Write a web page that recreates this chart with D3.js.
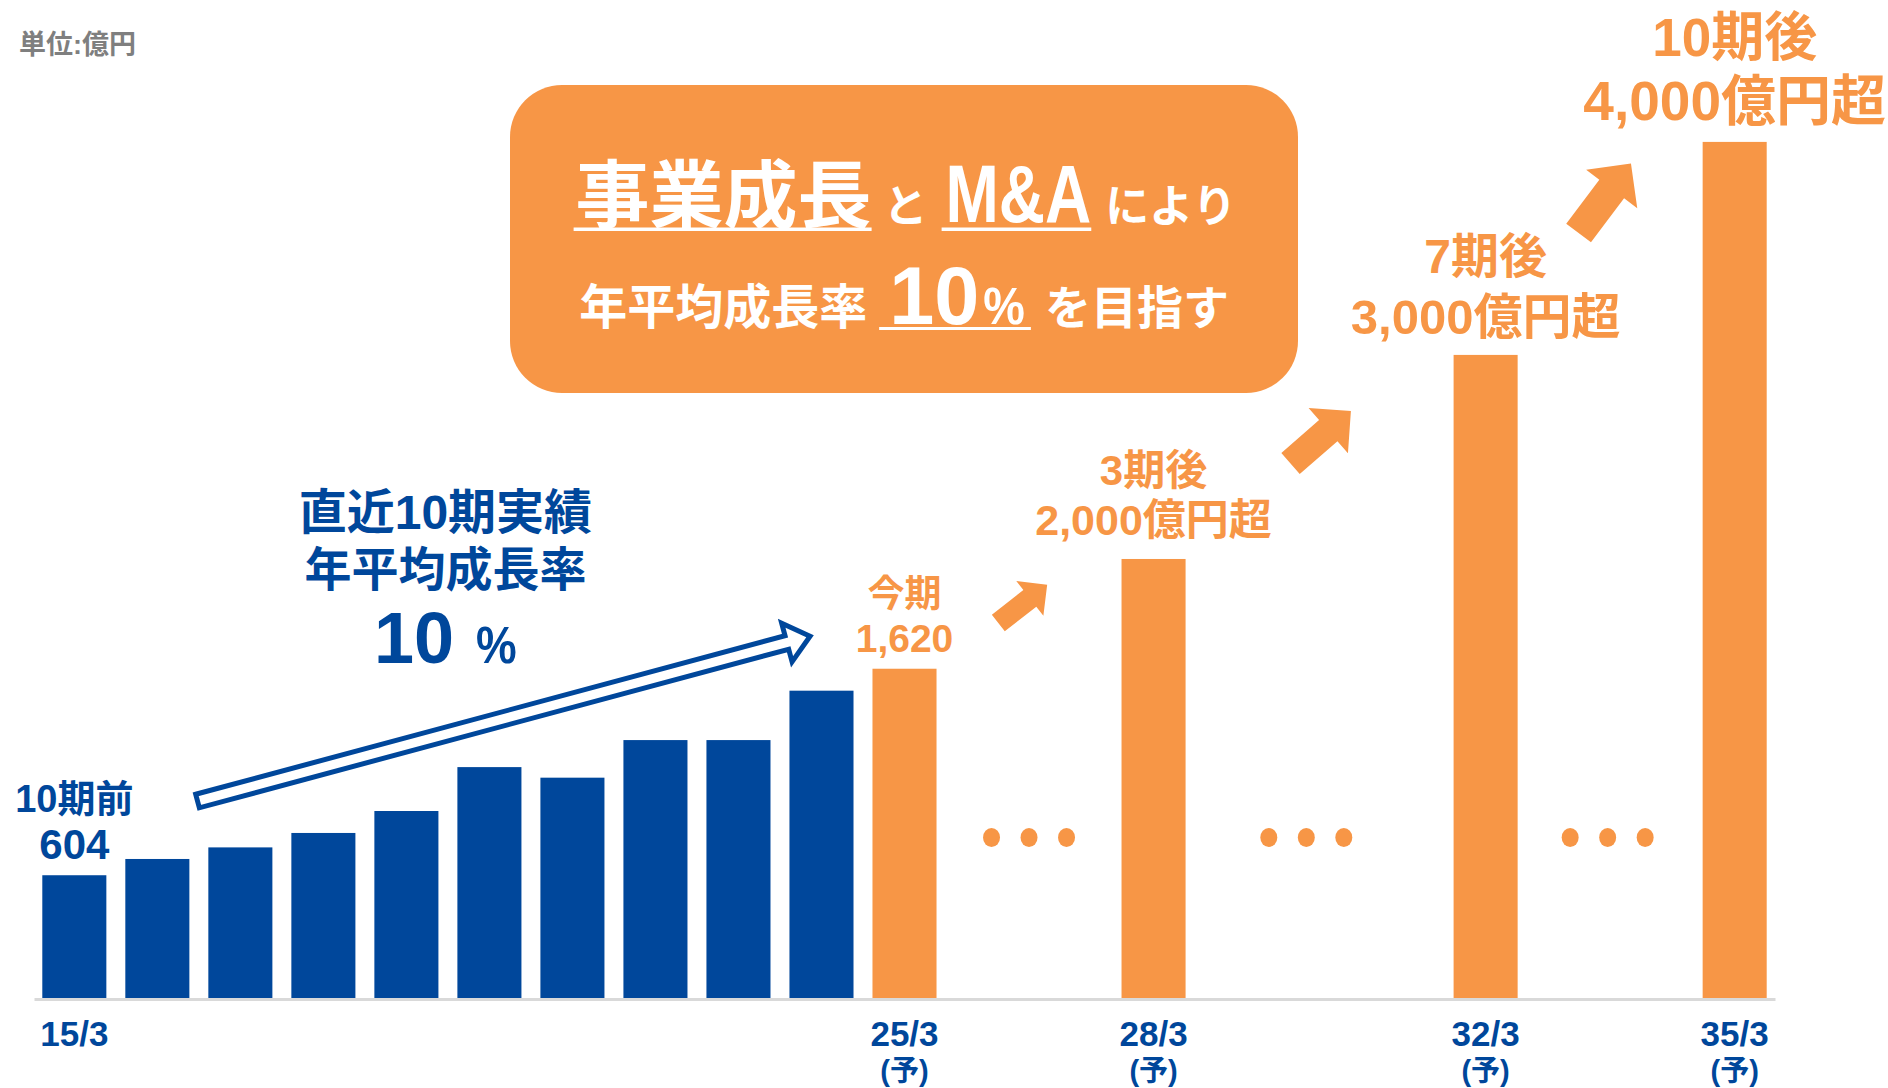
<!DOCTYPE html>
<html><head><meta charset="utf-8">
<script src="https://cdn.jsdelivr.net/npm/d3@7"></script>
<style>
html,body{margin:0;padding:0;background:#fff;}
svg{display:block;}
svg text{font-family:"Liberation Sans","Noto Sans CJK JP",sans-serif;font-weight:700;}
</style></head><body>
<svg id="chart" width="1888" height="1088"></svg>
<script>
// ---------- data ----------
const periods = ["15/3","16/3","17/3","18/3","19/3","20/3","21/3","22/3","23/3","24/3","25/3",
                 "26/3","27/3","28/3","29/3","30/3","31/3","32/3","33/3","34/3","35/3"];
const actualPeriods = ["15/3","16/3","17/3","18/3","19/3","20/3","21/3","22/3","23/3","24/3"];
const actualValues  = [604, 684, 741, 812, 920, 1136, 1084, 1269, 1269, 1512];
const planPeriods   = ["25/3","28/3","32/3","35/3"];
const planValues    = [1620, 2160, 3164, 4212];
const tickLabels    = ["15/3","25/3","28/3","32/3","35/3"];
const forecastTicks = ["25/3","28/3","32/3","35/3"];
const forecastMark  = "(予)";
const calloutPeriods = ["15/3","25/3","28/3","32/3","35/3"];
const calloutTitles  = ["10期前","今期","3期後","7期後","10期後"];
const calloutValues  = ["604","1,620","2,000億円超","3,000億円超","4,000億円超"];
const unitLabel = "単位:億円";

// ---------- styles / layout ----------
const BLUE = "#00479B", ORANGE = "#F79646", GREY = "#7F7F7F", AXIS = "#D9D9D9";
const calloutStyle = {
  size1: [38, 37, 42, 48, 53], size2: [42, 39, 43, 49, 55],
  gap: [16, 17, 24, 21, 22], lead: [47, 45, 50, 61, 64],
  color: [BLUE, ORANGE, ORANGE, ORANGE, ORANGE]
};

const svg = d3.select("#chart");
const x = d3.scaleBand().domain(periods).range([34, 1775]).paddingInner(0.2285).paddingOuter(0.1);
const y = d3.scaleLinear().domain([0, 4500]).range([998, 998 - 4500 / 4.92]);
const xc = p => x(p) + x.bandwidth() / 2;
const xi = i => xc(periods[0]) + i * x.step();   // fractional period index -> px

// ---------- unit label ----------
svg.append("text").attr("x", 19).attr("y", 54).attr("font-size", 27).attr("fill", GREY).text(unitLabel);

// ---------- bars ----------
svg.append("g").selectAll("rect")
  .data(actualPeriods.map((p, i) => ({p, v: actualValues[i]})))
  .join("rect")
  .attr("x", d => x(d.p)).attr("width", x.bandwidth())
  .attr("y", d => y(d.v)).attr("height", d => y(0) - y(d.v))
  .attr("fill", BLUE);
svg.append("g").selectAll("rect")
  .data(planPeriods.map((p, i) => ({p, v: planValues[i]})))
  .join("rect")
  .attr("x", d => x(d.p)).attr("width", x.bandwidth())
  .attr("y", d => y(d.v)).attr("height", d => y(0) - y(d.v))
  .attr("fill", ORANGE);

// ---------- axis ----------
const ax = svg.append("g").attr("transform", `translate(0,${y(0) + 1})`)
  .call(d3.axisBottom(x).tickValues(tickLabels).tickSize(0).tickSizeOuter(0));
ax.attr("font-family", null).attr("font-size", null);
ax.select(".domain").attr("stroke", AXIS).attr("stroke-width", 3);
ax.selectAll(".tick text").each(function(d) {
  const t = d3.select(this).text(null).attr("y", null).attr("dy", null)
    .attr("fill", BLUE).attr("font-size", 35);
  t.append("tspan").attr("x", 0).attr("y", 47).text(d);
  if (forecastTicks.includes(d))
    t.append("tspan").attr("x", 0).attr("y", 82).attr("font-size", 29).text(forecastMark);
});

// ---------- ellipsis dots between forecast bars ----------
const gapDots = [["25/3","28/3",0.5],["28/3","32/3",0.46],["32/3","35/3",0.49]];
const dots = [];
gapDots.forEach(([a, b, t]) => {
  const c = xc(a) + t * (xc(b) - xc(a));
  [-1, 0, 1].forEach(k => dots.push(c + k * 37.5));
});
svg.append("g").selectAll("ellipse").data(dots).join("ellipse")
  .attr("cx", d => d).attr("cy", y(790)).attr("rx", 8.5).attr("ry", 9.5).attr("fill", ORANGE);

// ---------- callouts above bars ----------
const valueOf = p => {
  const i = actualPeriods.indexOf(p);
  return i >= 0 ? actualValues[i] : planValues[planPeriods.indexOf(p)];
};
calloutPeriods.forEach((p, i) => {
  const base2 = y(valueOf(p)) - calloutStyle.gap[i];
  const base1 = base2 - calloutStyle.lead[i];
  const g = svg.append("g").attr("fill", calloutStyle.color[i]).attr("text-anchor", "middle");
  g.append("text").attr("x", xc(p)).attr("y", base1).attr("font-size", calloutStyle.size1[i]).text(calloutTitles[i]);
  g.append("text").attr("x", xc(p)).attr("y", base2).attr("font-size", calloutStyle.size2[i]).text(calloutValues[i]);
});

// ---------- helper: flow a line of mixed-size segments ----------
function flowLine(parent, segs, cx, base, color, ulTop, ulH, ulPad) {
  const g = parent.append("g");
  const items = segs.map(s => {
    const t = g.append("text").attr("font-size", s.size).attr("fill", color).text(s.text);
    const w = t.node().getComputedTextLength() * (s.sx || 1);
    return {s, t, w};
  });
  const total = d3.sum(items, d => d.w + (d.s.gap || 0));
  let cur = cx - total / 2;
  const ul = {};
  items.forEach(d => {
    cur += d.s.gap || 0;
    d.t.attr("transform", `translate(${cur},${base}) scale(${d.s.sx || 1},1)`);
    if (d.s.ul) {
      if (!ul[d.s.ul]) ul[d.s.ul] = {x0: cur, x1: cur + d.w};
      ul[d.s.ul].x1 = cur + d.w;
    }
    cur += d.w;
  });
  Object.entries(ul).forEach(([k, u]) => {
    const pad = (ulPad && ulPad[k]) || [0, 0];
    g.append("rect").attr("x", u.x0 - pad[0]).attr("width", u.x1 - u.x0 + pad[0] + pad[1])
      .attr("y", ulTop).attr("height", ulH).attr("fill", color);
  });
}

// ---------- headline box ----------
const box = svg.append("g");
box.append("rect").attr("x", 510).attr("y", 85).attr("width", 788).attr("height", 308)
  .attr("rx", 52).attr("ry", 52).attr("fill", ORANGE);
flowLine(box, [
  {text: "事業成長", size: 74, ul: "a"},
  {text: "と", size: 44, gap: 12},
  {text: "M&A", size: 82, sx: 0.78, ul: "b", gap: 18},
  {text: "により", size: 44, gap: 14}
], 906, 222, "#fff", 227.5, 3.5, {a: [2, 0], b: [4, 0]});
flowLine(box, [
  {text: "年平均成長率", size: 48},
  {text: "10", size: 81, ul: "c", gap: 22},
  {text: "%", size: 52, sx: 0.9, ul: "c", gap: 4},
  {text: "を目指す", size: 46, gap: 20}
], 904, 324, "#fff", 327, 3, {c: [10, 6]});

// ---------- historical growth annotation ----------
const noteCx = xi(4.47);
svg.append("text").attr("x", noteCx).attr("y", 529).attr("text-anchor", "middle")
  .attr("font-size", 48).attr("fill", BLUE).text("直近10期実績");
svg.append("text").attr("x", noteCx).attr("y", 586).attr("text-anchor", "middle")
  .attr("font-size", 47).attr("fill", BLUE).text("年平均成長率");
flowLine(svg, [
  {text: "10", size: 72},
  {text: "%", size: 52, sx: 0.88, gap: 22}
], noteCx, 663, BLUE, 0, 0, null);

// ---------- trend arrow (outlined) ----------
const trend = {from: [1.484, 969], to: [8.874, 1781]};
(function() {
  const x0 = xi(trend.from[0]), y0 = y(trend.from[1]);
  const x1 = xi(trend.to[0]), y1 = y(trend.to[1]);
  const L = Math.hypot(x1 - x0, y1 - y0) - 1;
  const ang = Math.atan2(y1 - y0, x1 - x0) * 180 / Math.PI;
  const h = 7, Hh = 20, hl = 24;
  svg.append("path")
    .attr("d", `M0,${-h}H${L - hl}V${-Hh}L${L},0L${L - hl},${Hh}V${h}H0Z`)
    .attr("transform", `translate(${x0},${y0}) rotate(${ang})`)
    .attr("fill", "#fff").attr("stroke", BLUE).attr("stroke-width", 5).attr("stroke-linejoin", "miter");
})();

// ---------- growth arrows (solid) ----------
const growthArrows = [
  {at: [11.13, 1845], angle: -38, shaft: 40, width: 21, head: 22},
  {at: [14.65, 2630], angle: -41, shaft: 50, width: 28, head: 30},
  {at: [18.12, 3764], angle: -53, shaft: 55, width: 31, head: 32}
];
svg.append("g").selectAll("path").data(growthArrows).join("path")
  .attr("d", a => `M0,${-a.width / 2}H${a.shaft}V${-a.head}L${a.shaft + a.head},0L${a.shaft},${a.head}V${a.width / 2}H0Z`)
  .attr("transform", a => `translate(${xi(a.at[0])},${y(a.at[1])}) rotate(${a.angle})`)
  .attr("fill", ORANGE);
</script>
</body></html>
